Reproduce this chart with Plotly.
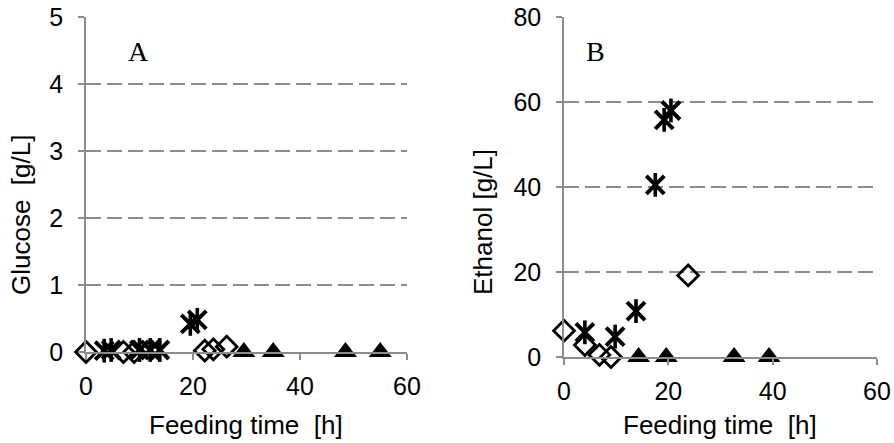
import plotly.graph_objects as go

# Panel A: Glucose
gA_dia_x = [0, 7, 9, 22.2, 23.8, 26.3]
gA_dia_y = [0, 0, 0, 0.02, 0.04, 0.08]
gA_star_x = [3.4, 4.7, 10, 12, 13.8, 19.5, 20.8]
gA_star_y = [0.02, 0.03, 0.03, 0.03, 0.03, 0.42, 0.48]
gA_tri_x = [29.5, 35, 48.5, 55]
gA_tri_y = [0, 0, 0, 0]

# Panel B: Ethanol
eB_dia_x = [0, 4, 6.8, 9, 23.8]
eB_dia_y = [6.2, 2.8, 0.5, 0, 19.2]
eB_star_x = [4, 9.8, 13.8, 17.5, 19.2, 20.5]
eB_star_y = [5.8, 4.8, 10.8, 40.5, 55.8, 58]
eB_tri_x = [14.3, 19.6, 32.6, 39.3]
eB_tri_y = [0, 0, 0, 0]

x_ticks = [0, 20, 40, 60]
yA_ticks = [0, 1, 2, 3, 4, 5]
yB_ticks = [0, 20, 40, 60, 80]

fig = go.Figure()

dia = dict(symbol="diamond-open", size=16, color="black", line=dict(width=2.8, color="black"))
star_x = dict(symbol="x-thin-open", size=18, color="black", line=dict(width=4, color="black"))
star_v = dict(symbol="line-ns-open", size=17, color="black", line=dict(width=3.6, color="black"))
tri = dict(symbol="triangle-up", size=20, color="black", line=dict(width=0))

def add(x, y, m, xa, ya):
    fig.add_trace(go.Scatter(x=x, y=y, mode="markers", marker=m, xaxis=xa, yaxis=ya,
                             cliponaxis=False, hoverinfo="x+y"))

add(gA_dia_x, gA_dia_y, dia, "x", "y")
add(gA_star_x, gA_star_y, star_x, "x", "y")
add(gA_star_x, gA_star_y, star_v, "x", "y")
add(gA_tri_x, gA_tri_y, tri, "x", "y")
add(eB_dia_x, eB_dia_y, dia, "x2", "y2")
add(eB_star_x, eB_star_y, star_x, "x2", "y2")
add(eB_star_x, eB_star_y, star_v, "x2", "y2")
add(eB_tri_x, eB_tri_y, tri, "x2", "y2")

W, H = 894, 443
tickfont = dict(family="Liberation Sans, Arial, sans-serif", size=25, color="black")
titlefont = dict(family="Liberation Sans, Arial, sans-serif", size=26, color="black")
gray = "#8c8c8c"

def xax(domain, anchor):
    return dict(domain=domain, anchor=anchor, range=[0, 60], tickvals=x_ticks,
                showgrid=False, zeroline=False, showline=True, linecolor=gray, linewidth=1.5,
                ticks="outside", ticklen=6, tickcolor=gray, tickwidth=1.5, automargin=False,
                ticklabelstandoff=5, tickfont=tickfont)

def yax(domain, anchor, rng, vals):
    return dict(domain=domain, anchor=anchor, range=rng, tickvals=vals,
                showgrid=True, gridcolor=gray, griddash="15px,6px", gridwidth=1.5,
                zeroline=False, showline=True, linecolor=gray, linewidth=1.5,
                ticks="outside", ticklen=6, tickcolor=gray, tickwidth=1.5, automargin=False,
                ticklabelstandoff=10, tickfont=tickfont)

serif = dict(family="Liberation Serif, Times New Roman, serif", size=28, color="black")

def ptitle(text, x, y, angle=0):
    return dict(text=text, x=x / W, y=1 - y / H, xref="paper", yref="paper",
                xanchor="center", yanchor="middle", showarrow=False, textangle=angle,
                font=titlefont)

fig.update_layout(
    width=W, height=H, margin=dict(l=0, r=0, t=0, b=0),
    paper_bgcolor="white", plot_bgcolor="white", showlegend=False,
    xaxis=xax([86 / W, 407 / W], "y"),
    yaxis=yax([1 - 352 / H, 1 - 17 / H], "x", [0, 5], yA_ticks),
    xaxis2=xax([564 / W, 877 / W], "y2"),
    yaxis2=yax([1 - 357 / H, 1 - 17 / H], "x2", [0, 80], yB_ticks),
    annotations=[
        dict(text="A", x=9.9, y=4.48, xref="x", yref="y", showarrow=False, font=serif),
        dict(text="B", x=6.1, y=71.8, xref="x2", yref="y2", showarrow=False, font=serif),
        ptitle("Feeding time\u00a0\u00a0[h]", 246, 425),
        ptitle("Feeding time\u00a0\u00a0[h]", 720, 425),
        ptitle("Glucose\u00a0\u00a0[g/L]", 21, 215, -90),
        ptitle("Ethanol [g/L]", 483, 222, -90),
    ],
)

fig.write_html("out.html", config={"displayModeBar": False},
               post_script="document.body.style.margin='0';")
